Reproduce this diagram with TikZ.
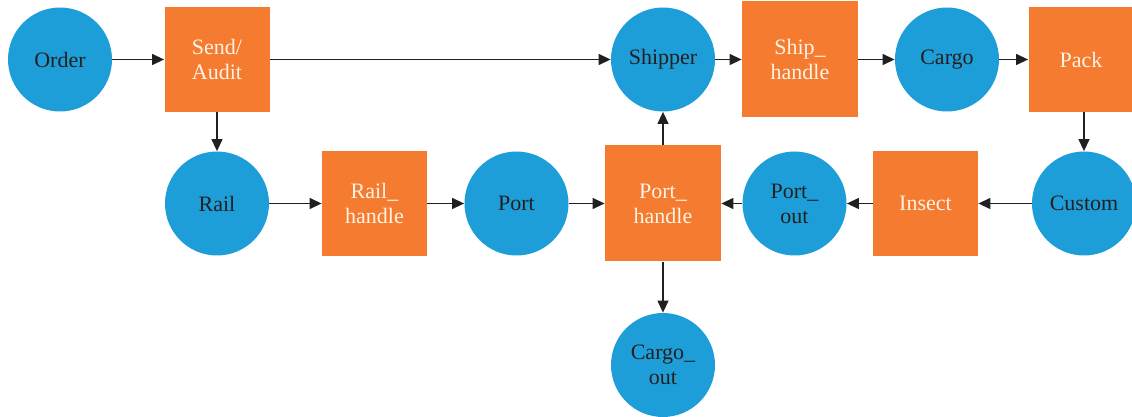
\documentclass[tikz,border=0pt]{standalone}
\usepackage{fontspec}
\setmainfont{Liberation Serif}
\usetikzlibrary{arrows.meta}
\definecolor{flowblue}{HTML}{1E9ED8}
\definecolor{floworange}{HTML}{F47B2F}
\definecolor{flowink}{HTML}{231F20}
\definecolor{flowcream}{HTML}{FFF3E6}
\tikzset{
  place/.style={circle, fill=flowblue, minimum size=52pt, inner sep=0pt, align=center, text=flowink},
  task/.style={rectangle, fill=floworange, minimum size=52.5pt, inner sep=0pt, align=center, text=flowcream},
  bigtask/.style={task, minimum size=58pt},
  flow/.style={draw=flowink, line width=0.65pt, -{Triangle[length=6pt,width=5.5pt]}}
}

\begin{document}
\begin{tikzpicture}[x=0.5pt, y=-0.5pt, font=\fontsize{11}{12.5}\selectfont]
			%%%%% START %%%%%
			\useasboundingbox (0, 0) rectangle (1132, 417);
			
			% top row
			\node[place] (order) at (60, 59.5) {Order};
			\node[task] (send) at (217, 59.5) {Send/\\Audit};
			\node[place] (shipper) at (663, 59.5) {Shipper};
			\node[bigtask] (shiphandle) at (800, 59.5) {Ship\_\\handle};
			\node[place] (cargo) at (947, 59.5) {Cargo};
			\node[task] (pack) at (1081, 59.5) {Pack};
			
			% middle row
			\node[place] (rail) at (217, 203.5) {Rail};
			\node[task] (railhandle) at (374.5, 203.5) {Rail\_\\handle};
			\node[place] (port) at (516.5, 203.5) {Port};
			\node[bigtask] (porthandle) at (663, 203.5) {Port\_\\handle};
			\node[place] (portout) at (794.5, 203.5) {Port\_\\out};
			\node[task] (insect) at (925.5, 203.5) {Insect};
			\node[place] (custom) at (1084, 203.5) {Custom};
			
			% bottom
			\node[place] (cargoout) at (663, 365) {Cargo\_\\out};
			
			\draw[flow] (order) -- (send);
			\draw[flow] (send) -- (shipper);
			\draw[flow] (send) -- (rail);
			\draw[flow] (shipper) -- (shiphandle);
			\draw[flow] (shiphandle) -- (cargo);
			\draw[flow] (cargo) -- (pack);
			\draw[flow] (pack.south -| custom.north) -- (custom);
			\draw[flow] (custom) -- (insect);
			\draw[flow] (insect) -- (portout);
			\draw[flow] (portout) -- (porthandle);
			\draw[flow] (rail) -- (railhandle);
			\draw[flow] (railhandle) -- (port);
			\draw[flow] (port) -- (porthandle);
			\draw[flow] (porthandle) -- (shipper);
			\draw[flow] (porthandle) -- (cargoout);
			%%%%% END %%%%%
\end{tikzpicture}
\end{document}
